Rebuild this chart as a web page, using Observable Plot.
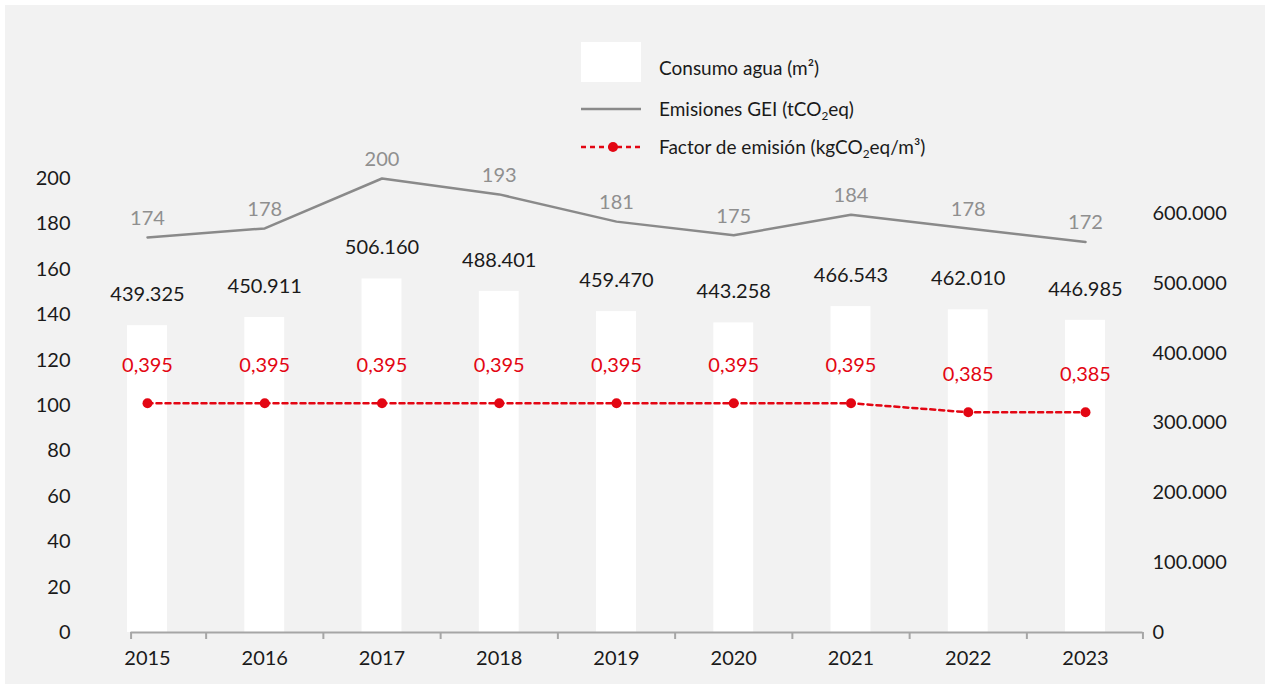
<!DOCTYPE html>
<html>
<head>
<meta charset="utf-8">
<script src="https://cdn.jsdelivr.net/npm/d3@7"></script>
<script src="https://cdn.jsdelivr.net/npm/@observablehq/plot@0.6"></script>
<style>
  html, body { margin: 0; padding: 0; background: #ffffff; }
  body { width: 1270px; height: 688px; position: relative; overflow: hidden; font-family: Lato, "Open Sans", sans-serif; }
  #panel { position: absolute; left: 5px; top: 5px; width: 1260px; height: 679px; background: #f2f2f2; }
  #chart { position: absolute; left: 0; top: 0; }
  #legend { position: absolute; left: 581px; top: 42px; font-size: 19px; color: #1a1a1a; }
  #legend .row { display: flex; align-items: center; }
  #legend .txt { margin-left: 18px; white-space: nowrap; }
  #legend sub { font-size: 0.62em; vertical-align: -0.3em; line-height: 0; }
</style>
</head>
<body>
<div id="panel"></div>
<div id="chart"></div>
<div id="legend">
  <div class="row" style="height:40px">
    <svg width="60" height="40"><rect width="60" height="40" fill="#ffffff"></rect></svg>
    <span class="txt" style="padding-top:10px">Consumo agua (m²)</span>
  </div>
  <div class="row" style="height:24px; margin-top:14px">
    <svg width="60" height="24"><line x1="0" x2="60" y1="13" y2="13" stroke="#8a8a8a" stroke-width="2.5"></line></svg>
    <span class="txt">Emisiones GEI (tCO<sub>2</sub>eq)</span>
  </div>
  <div class="row" style="height:24px; margin-top:14px">
    <svg width="60" height="24"><line x1="0" x2="60" y1="13" y2="13" stroke="#e30613" stroke-width="2.5" stroke-dasharray="5,4"></line><circle cx="32" cy="13" r="5" fill="#e30613"></circle></svg>
    <span class="txt">Factor de emisión (kgCO<sub>2</sub>eq/m³)</span>
  </div>
</div>
<script>
// ---- data ----
const years = [2015, 2016, 2017, 2018, 2019, 2020, 2021, 2022, 2023];
const consumoAgua = [439325, 450911, 506160, 488401, 459470, 443258, 466543, 462010, 446985];
const emisionesGEI = [174, 178, 200, 193, 181, 175, 184, 178, 172];
const factorEmision = [0.395, 0.395, 0.395, 0.395, 0.395, 0.395, 0.395, 0.385, 0.385];
const leftTicks = [0, 20, 40, 60, 80, 100, 120, 140, 160, 180, 200];
const rightTicks = [0, 100000, 200000, 300000, 400000, 500000, 600000];

// ---- scale settings ----
const leftMax = 200;
const rightMax = 650000;               // secondary (water) axis top
const factorDomain = [0.1425, 0.6425]; // hidden axis for the emission factor
const k = leftMax / rightMax;
const factorToLeft = d3.scaleLinear().domain(factorDomain).range([0, leftMax]);
const axisStart = 2014.86, axisEnd = 2023.49;
const tickYears = [axisStart, 2015.5, 2016.5, 2017.5, 2018.5, 2019.5, 2020.5, 2021.5, 2022.5, axisEnd];

const locale = d3.formatLocale({decimal: ",", thousands: ".", grouping: [3], currency: ["", ""]});
const fmtInt = locale.format(",d");
const fmtFac = locale.format(".3f");

const rows = years.map((year, i) => ({
  year,
  agua: consumoAgua[i],
  aguaY: consumoAgua[i] * k,
  emis: emisionesGEI[i],
  factor: factorEmision[i],
  factorY: factorToLeft(factorEmision[i])
}));

const red = "#e30613";
const gray = "#8a8a8a";
const ink = "#1a1a1a";
const fs = 20;

const chart = Plot.plot({
  width: 1270,
  height: 688,
  marginLeft: 80,
  marginRight: 128,
  marginTop: 20,
  marginBottom: 56,
  style: {background: "transparent", fontFamily: "Lato, 'Open Sans', sans-serif", fontSize: fs + "px", color: ink, overflow: "visible"},
  x: {type: "linear", domain: [2015, 2023], range: [147, 1085], label: null},
  y: {domain: [0, leftMax], range: [632, 178], label: null},
  marks: [
    Plot.rectY(rows, {x1: d => d.year - 0.17, x2: d => d.year + 0.17, y: "aguaY", fill: "#ffffff"}),
    Plot.ruleY([0], {x1: () => axisStart, x2: () => axisEnd, stroke: "#a6a6a6", strokeWidth: 2}),
    Plot.axisX({ticks: tickYears, tickSize: 7, tickFormat: () => "", stroke: "#a6a6a6", strokeWidth: 2, label: null}),
    Plot.axisX({ticks: years, tickSize: 0, tickPadding: 18, tickFormat: d => String(d), fill: ink, fontSize: fs, label: null}),
    Plot.axisY({anchor: "left", ticks: leftTicks, tickSize: 0, tickPadding: 10, tickFormat: d => String(d), fill: ink, fontSize: fs, label: null}),
    Plot.axisY({anchor: "right", ticks: rightTicks.map(v => v * k), tickSize: 0, tickPadding: 10, tickFormat: d => fmtInt(Math.round(d / k)), fill: ink, fontSize: fs, label: null}),
    Plot.line(rows, {x: "year", y: "emis", stroke: gray, strokeWidth: 2.5}),
    Plot.text(rows, {x: "year", y: "emis", text: d => String(d.emis), dy: -19, fill: "#8f8f8f", fontSize: fs}),
    Plot.text(rows, {x: "year", y: "aguaY", text: d => fmtInt(d.agua), dy: -31, fill: ink, fontSize: fs}),
    Plot.line(rows, {x: "year", y: "factorY", stroke: red, strokeWidth: 2.5, strokeDasharray: "5,4"}),
    Plot.dot(rows, {x: "year", y: "factorY", r: 5, fill: red, stroke: "none"}),
    Plot.text(rows, {x: "year", y: "factorY", text: d => fmtFac(d.factor), dy: -38, fill: red, fontSize: fs})
  ]
});
document.getElementById("chart").appendChild(chart);
</script>
</body>
</html>
